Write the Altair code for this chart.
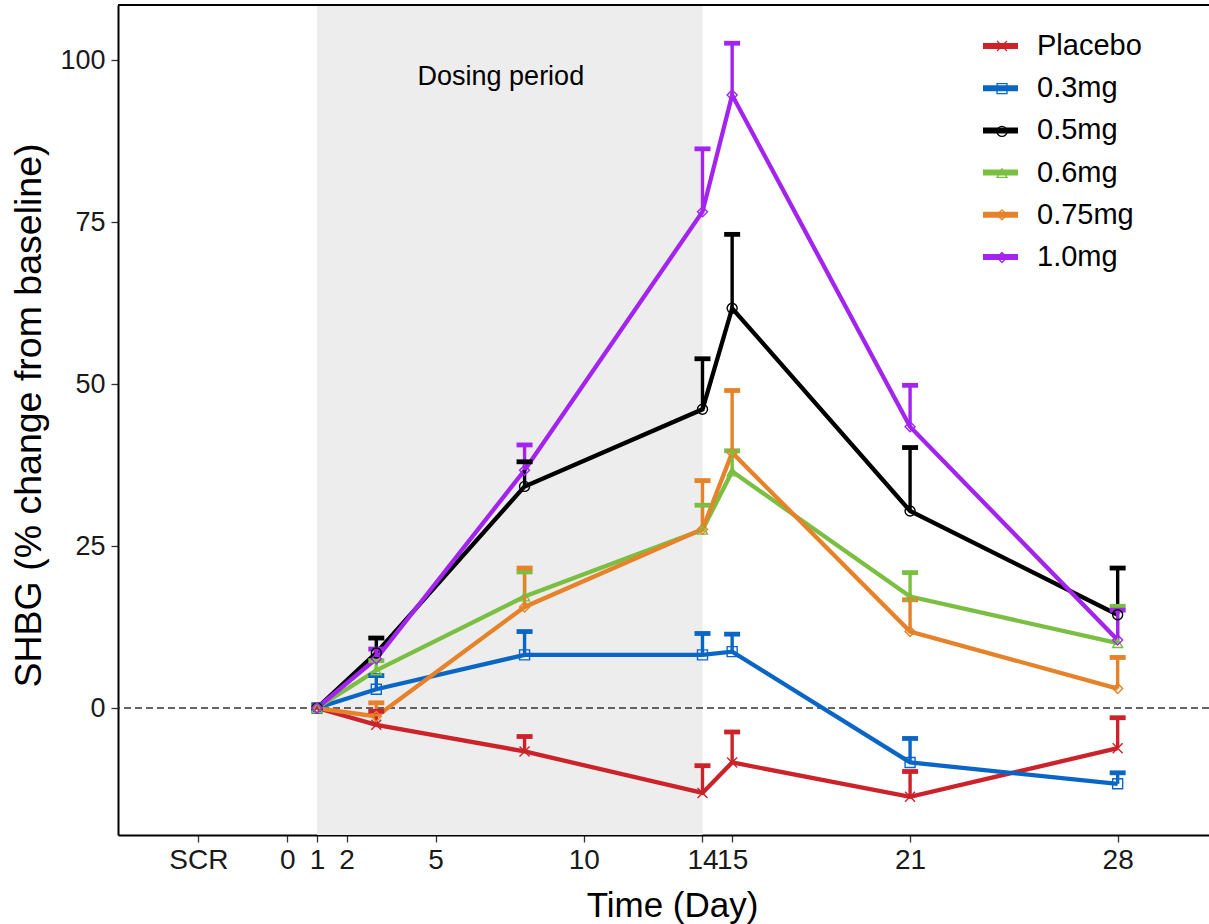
import altair as alt
import pandas as pd

# ---- data ----
days = [1, 3, 8, 14, 15, 21, 28]
series_names = ["Placebo", "0.3mg", "0.5mg", "0.6mg", "0.75mg", "1.0mg"]

placebo_mean = [0, -2.6, -6.7, -13.1, -8.4, -13.7, -6.2]
placebo_upper = [0, -0.5, -4.4, -8.9, -3.7, -9.8, -1.5]
mg03_mean = [0, 2.9, 8.2, 8.2, 8.7, -8.4, -11.7]
mg03_upper = [0, 5.0, 11.8, 11.5, 11.4, -4.7, -10.0]
mg05_mean = [0, 8.5, 34.2, 46.1, 61.7, 30.4, 14.4]
mg05_upper = [0, 10.8, 38.0, 53.9, 73.1, 40.2, 21.6]
mg06_mean = [0, 5.8, 17.2, 27.5, 36.5, 17.2, 10.0]
mg06_upper = [0, 7.3, 21.0, 31.3, 39.7, 20.9, 15.7]
mg075_mean = [0, -1.3, 15.6, 27.6, 39.4, 11.8, 3.0]
mg075_upper = [0, 0.8, 21.6, 35.1, 49.0, 16.7, 7.8]
mg10_mean = [0, 7.6, 36.7, 76.6, 94.6, 43.4, 10.5]
mg10_upper = [0, 9.1, 40.6, 86.3, 102.6, 49.8, 15.1]

x_tick_values = [-3, 0, 1, 2, 5, 10, 14, 15, 21, 28]
y_tick_values = [0, 25, 50, 75, 100]
dosing_start = [1]
dosing_end = [14]
dosing_label = ["Dosing period"]

colors = ["#CC2229", "#0A66C5", "#000000", "#7BBF42", "#E5822A", "#A224EE"]
shapes = ["M-1,-1L1,1M-1,1L1,-1", "square", "circle", "triangle-up", "diamond", "diamond"]

means = [placebo_mean, mg03_mean, mg05_mean, mg06_mean, mg075_mean, mg10_mean]
uppers = [placebo_upper, mg03_upper, mg05_upper, mg06_upper, mg075_upper, mg10_upper]

rows = []
for name, ms, us in zip(series_names, means, uppers):
    for d, m, u in zip(days, ms, us):
        rows.append({"day": d, "series": name, "mean": m, "upper": u})
df = pd.DataFrame(rows)
err_df = df[df["day"] != 1]

FONT = "Liberation Sans"
W, H = 1091, 830

x_scale = alt.Scale(domain=[-5.71, 31.08], nice=False, zero=False)
y_scale = alt.Scale(domain=[-19.6, 108.5], nice=False, zero=False)

x_axis = alt.Axis(
    values=x_tick_values,
    labelExpr="datum.value == -3 ? 'SCR' : datum.label",
    title="Time (Day)", titleFont=FONT, titleFontSize=35, titleFontWeight="normal",
    titleColor="black", titleX=554, titleY=70, titleAlign="center", titleBaseline="middle",
    labelFont=FONT, labelFontSize=28, labelColor="#1a1a1a", labelPadding=4,
    labelOverlap=False, labelFlush=False,
    tickSize=7, tickWidth=1.3, tickColor="#333333",
    domainColor="black", domainWidth=2, grid=False,
)
y_axis = alt.Axis(
    values=y_tick_values,
    title="SHBG (% change from baseline)", titleFont=FONT, titleFontSize=37.5,
    titleFontWeight="normal", titleColor="black", titleX=-89, titleY=410,
    titleAngle=270, titleAlign="center", titleBaseline="middle",
    labelFont=FONT, labelFontSize=27, labelColor="#1a1a1a", labelPadding=6,
    tickSize=7, tickWidth=1.3, tickColor="#333333",
    domainColor="black", domainWidth=2, grid=False,
)

X = alt.X("day:Q", scale=x_scale, axis=x_axis)
color_scale = alt.Scale(domain=series_names, range=colors)

line_legend = alt.Legend(
    title=None, orient="none", legendX=862, legendY=20.5, padding=0,
    labelFont=FONT, labelFontSize=29, labelColor="black", labelLimit=400,
    labelOffset=16, rowPadding=6.2,
    symbolType="stroke", symbolStrokeWidth=6, symbolSize=1225,
)
pt_legend = alt.Legend(
    title=None, orient="none", legendX=878, legendY=35, padding=0,
    labelFontSize=1, labelExpr="''", labelLimit=10,
    rowPadding=26.7,
    symbolStrokeWidth=1.3, symbolSize=100,
)

shade = alt.Chart(pd.DataFrame({"start": dosing_start, "end": dosing_end})).mark_rect(
    color="#EDEDED"
).encode(
    x=alt.X("start:Q", scale=x_scale, axis=x_axis),
    x2="end:Q",
    y=alt.value(0),
    y2=alt.value(H),
)

zero_line = alt.Chart(pd.DataFrame({"y": [0]})).mark_rule(
    strokeDash=[7, 4], color="#333333", strokeWidth=1.3
).encode(y=alt.Y("y:Q", scale=y_scale, axis=y_axis))

lines = alt.Chart(df).mark_line(strokeWidth=4.3).encode(
    x=X,
    y=alt.Y("mean:Q", scale=y_scale, axis=y_axis),
    color=alt.Color("series:N", scale=color_scale, legend=line_legend),
    order="day:Q",
)

err_rules = alt.Chart(err_df).mark_rule(strokeWidth=3.4).encode(
    x=X,
    y=alt.Y("mean:Q", scale=y_scale, axis=y_axis),
    y2="upper:Q",
    color=alt.Color("series:N", scale=color_scale, legend=None),
)

caps = alt.Chart(err_df).mark_point(
    shape="M-1,0L1,0", size=256, strokeWidth=4.8, filled=False, opacity=1
).encode(
    x=X,
    y=alt.Y("upper:Q", scale=y_scale, axis=y_axis),
    color=alt.Color("series:N", scale=color_scale, legend=None),
)

points = alt.Chart(df).mark_point(
    filled=False, size=100, strokeWidth=1.4, opacity=1
).encode(
    x=X,
    y=alt.Y("mean:Q", scale=y_scale, axis=y_axis),
    color=alt.Color("series:N", scale=color_scale, legend=pt_legend),
    shape=alt.Shape("series:N", scale=alt.Scale(domain=series_names, range=shapes), legend=pt_legend),
)

label = alt.Chart(pd.DataFrame({"x": [7.2], "y": [97.4], "t": dosing_label})).mark_text(
    font=FONT, fontSize=27, color="black", baseline="middle", align="center"
).encode(
    x=alt.X("x:Q", scale=x_scale, axis=x_axis),
    y=alt.Y("y:Q", scale=y_scale, axis=y_axis),
    text="t:N",
)

top_border = alt.Chart(pd.DataFrame({"a": [0]})).mark_rule(color="black", strokeWidth=2).encode(
    x=alt.value(0), x2=alt.value(W), y=alt.value(0)
)

chart = alt.layer(
    shade, zero_line, lines, err_rules, caps, points, label, top_border
).resolve_legend(
    color="independent", shape="independent"
).properties(
    width=W, height=H,
    autosize=alt.AutoSizeParams(type="none"),
    padding={"left": 118, "top": 5, "right": 0, "bottom": 89},
    background="white",
).configure_view(stroke=None)

chart.save("out.html", embed_options={"renderer": "svg", "actions": False})
